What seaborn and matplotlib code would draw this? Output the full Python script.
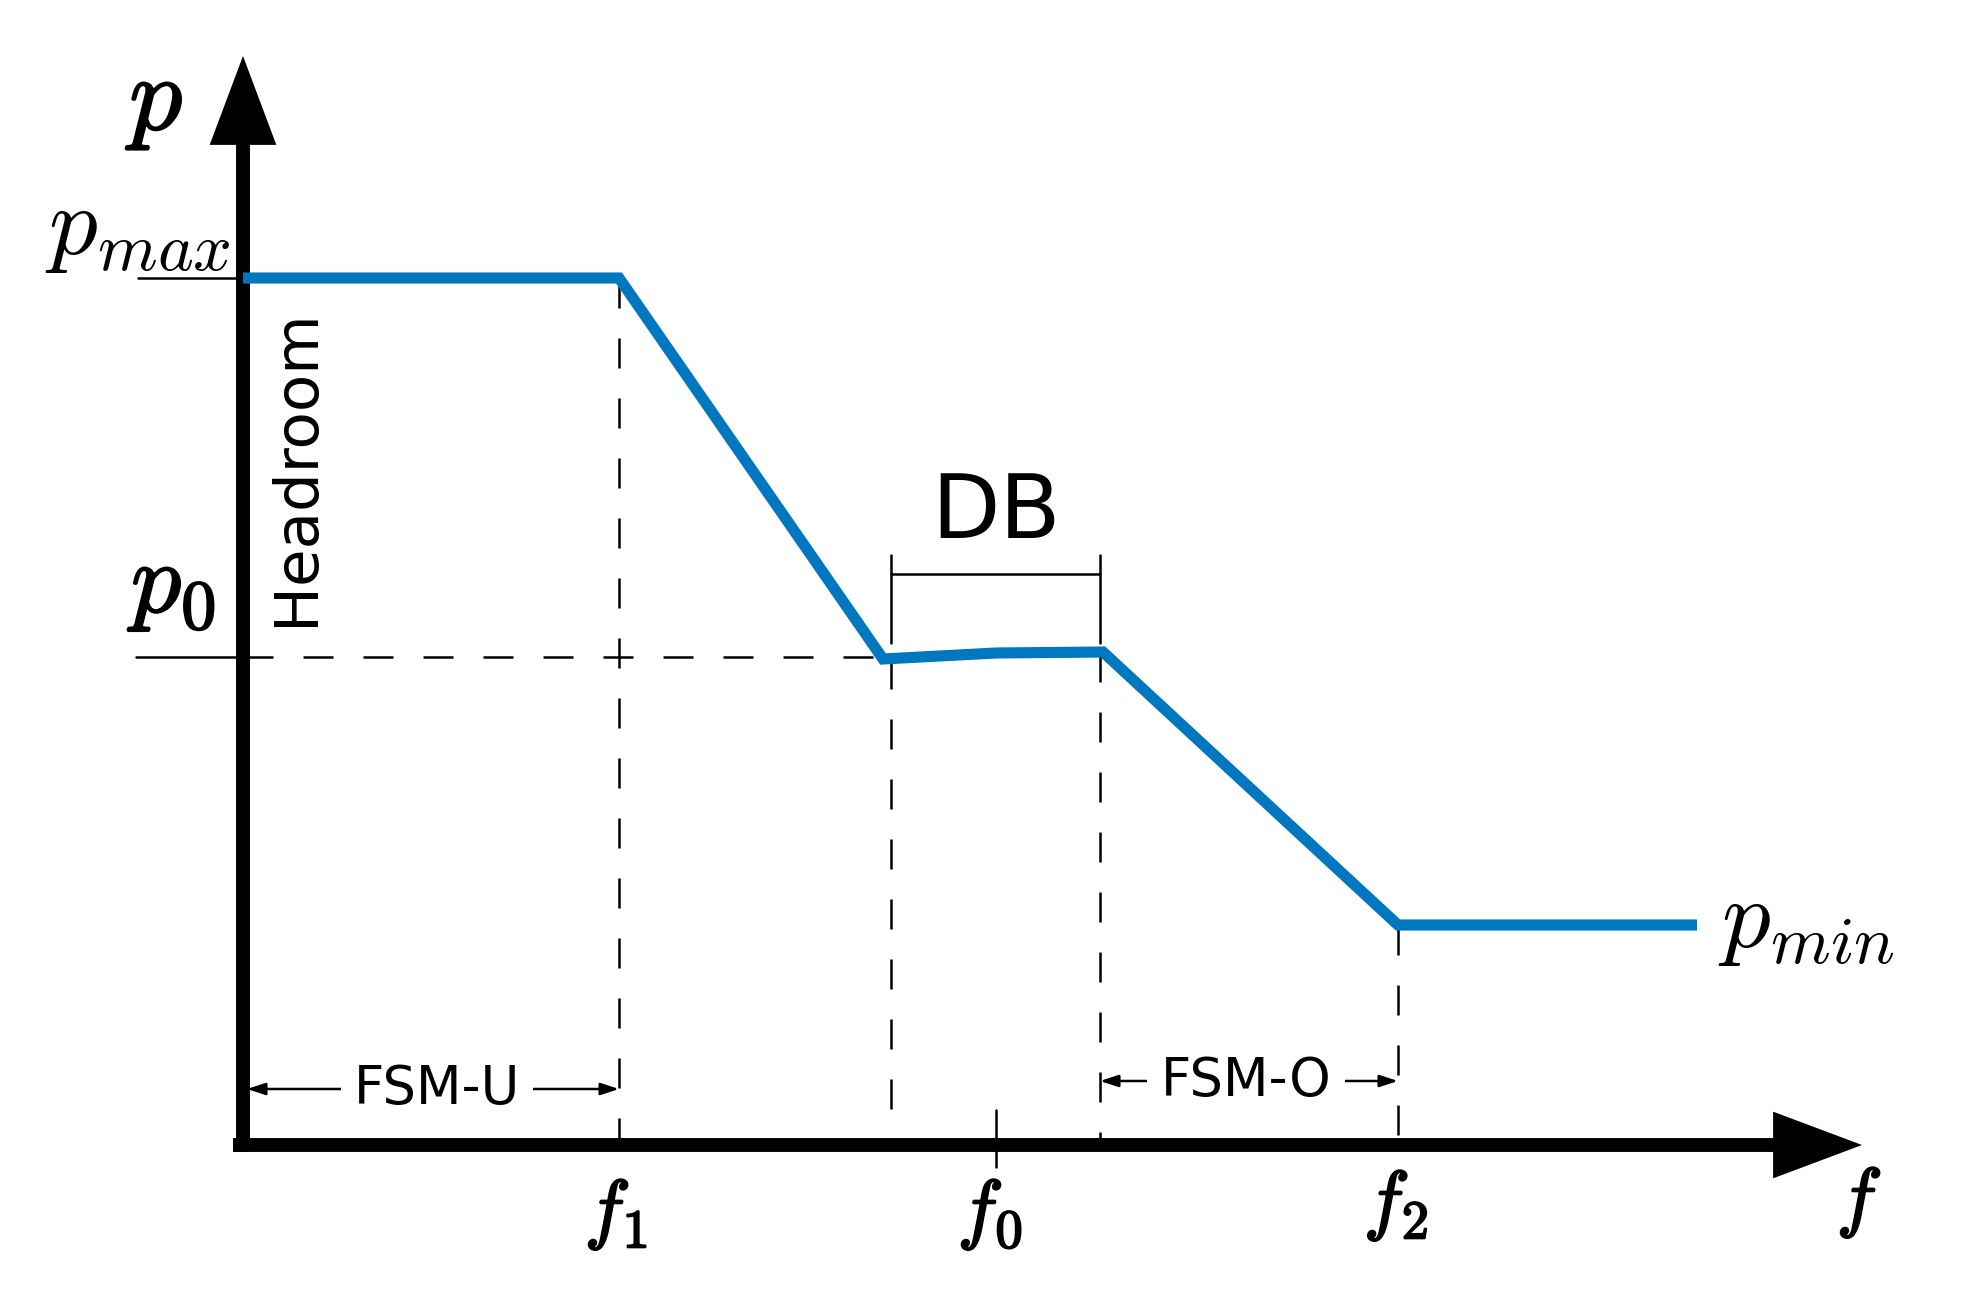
"""Droop curve sketch: power set point against frequency, with dead band and FSM ranges."""
import matplotlib

matplotlib.use("Agg")
import matplotlib.pyplot as plt
import matplotlib.patheffects as pe
import pandas as pd
import seaborn as sns

sns.set_theme(style="white")
plt.rcParams["font.family"] = ["DejaVu Sans"]
plt.rcParams["mathtext.fontset"] = "cm"
plt.rcParams["text.color"] = "black"

# schematic units: origin where the two axes meet
F_NAMES = ["start", "f1", "db_lo", "f0", "db_hi", "f2", "end"]
F_VALUES = [0.0, 3.76, 6.40, 7.53, 8.60, 11.55, 14.54]
P_VALUES = [8.67, 8.67, 4.86, 4.92, 4.93, 2.20, 2.20]

P_MAX = 8.67
P_0 = 4.88
P_MIN = 2.20
F_1 = 3.76
F_0 = 7.53
F_2 = 11.55
DB_LO = 6.48
DB_HI = 8.57
F_TIP = 16.19
P_TIP = 10.89

BLUE = "#0077be"
THIN = 1.8
AXIS_LW = 10


def draw_axes(ax):
    """The two thick arrows that make the p and f axes."""
    head = dict(arrowstyle="-|>,head_length=3.2,head_width=1.2", lw=0, color="black",
                shrinkA=0, shrinkB=0, mutation_scale=20)
    ax.plot([0, 0], [-0.07, P_TIP - 0.6], color="black", lw=AXIS_LW, solid_capstyle="butt")
    ax.plot([-0.10, F_TIP - 0.6], [0, 0], color="black", lw=AXIS_LW, solid_capstyle="butt")
    ax.annotate("", xy=(0, P_TIP), xytext=(0, P_TIP - 1.0), arrowprops=head)
    ax.annotate("", xy=(F_TIP, 0), xytext=(F_TIP - 1.0, 0), arrowprops=head)


def draw_guides(ax):
    """Dashed helper lines, level ticks and the dead band bracket."""
    dash = dict(color="black", lw=THIN, dashes=(12, 12))
    ax.plot([0, F_VALUES[2]], [P_0, P_0], **dash)
    ax.plot([F_1, F_1], [P_MAX, 0], **dash)
    ax.plot([DB_LO, DB_LO], [P_VALUES[2], 0], **dash)
    ax.plot([DB_HI, DB_HI], [P_VALUES[4], 0], **dash)
    ax.plot([F_2, F_2], [P_MIN, 0], **dash)

    ax.plot([-1.05, 0], [P_MAX, P_MAX], color="black", lw=THIN)
    ax.plot([-1.07, 0], [P_0, P_0], color="black", lw=THIN)
    ax.plot([F_0, F_0], [0.35, -0.22], color="black", lw=THIN)

    # dead band bracket
    ax.plot([DB_LO, DB_HI], [5.71, 5.71], color="black", lw=THIN)
    ax.plot([DB_LO, DB_LO], [5.90, 5.02], color="black", lw=THIN)
    ax.plot([DB_HI, DB_HI], [5.90, 5.02], color="black", lw=THIN)
    ax.text((DB_LO + DB_HI) / 2, 6.31, "DB", fontsize=64, ha="center", va="center")


def draw_ranges(ax):
    """The FSM-U and FSM-O double arrows."""
    arrow = dict(arrowstyle="<|-|>,head_length=0.55,head_width=0.18", lw=THIN,
                 color="black", shrinkA=0, shrinkB=0, mutation_scale=20)
    box = dict(boxstyle="square,pad=0.25", fc="white", ec="none")
    ax.annotate("", xy=(0.04, 0.56), xytext=(F_1, 0.56), arrowprops=arrow)
    ax.text(1.94, 0.56, "FSM-U", fontsize=38, ha="center", va="center", bbox=box)
    ax.annotate("", xy=(DB_HI, 0.64), xytext=(F_2, 0.64), arrowprops=arrow)
    ax.text(10.03, 0.64, "FSM-O", fontsize=38, ha="center", va="center", bbox=box)


def draw_labels(ax):
    bold = [pe.withStroke(linewidth=1.4, foreground="black")]
    ax.text(-0.85, 10.43, "$p$", fontsize=76, ha="center", va="center", path_effects=bold)
    ax.text(-0.12, 9.16, "$p_{max}$", fontsize=70, ha="right", va="center")
    ax.text(-0.68, 5.60, "$p_0$", fontsize=72, ha="center", va="center", path_effects=bold)
    ax.text(15.63, 2.23, "$p_{min}$", fontsize=70, ha="center", va="center")
    ax.text(0.53, 6.78, "Headroom", fontsize=44, rotation=90, ha="center", va="center")

    for x, y, s in [(3.73, -0.69, "$f_1$"), (7.47, -0.69, "$f_0$"),
                    (11.53, -0.60, "$f_2$"), (16.16, -0.57, "$f$")]:
        ax.text(x, y, s, fontsize=56, ha="center", va="center", path_effects=bold)


def run():
    fig = plt.figure(figsize=(19.78, 12.99), dpi=100)
    ax = fig.add_axes([0, 0, 1, 1])
    ax.set_xlim(-2.43, 17.35)
    ax.set_ylim(-1.54, 11.45)

    curve = pd.DataFrame({"point": F_NAMES, "f": F_VALUES, "p": P_VALUES})
    draw_guides(ax)
    sns.lineplot(data=curve, x="f", y="p", sort=False, color=BLUE, lw=8,
                 ax=ax, zorder=3, solid_joinstyle="miter", solid_capstyle="butt")
    draw_axes(ax)
    draw_ranges(ax)
    draw_labels(ax)

    ax.set_axis_off()
    fig.savefig("out.png", dpi=100, facecolor="white")
    plt.close(fig)


if __name__ == "__main__":
    run()
